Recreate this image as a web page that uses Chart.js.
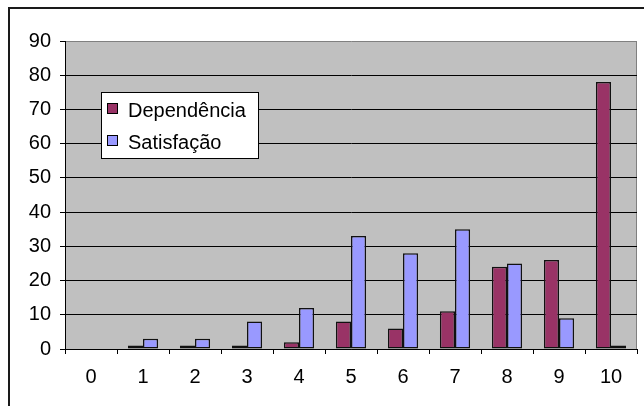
<!DOCTYPE html>
<html>
<head>
<meta charset="utf-8">
<script src="https://cdn.jsdelivr.net/npm/chart.js@4"></script>
<style>
  html, body { margin: 0; padding: 0; background: #fff; }
  #wrap { width: 644px; height: 406px; position: relative; }
</style>
</head>
<body>
<div id="wrap"><canvas id="c" width="644" height="406"></canvas></div>
<script>
const categories = ['0','1','2','3','4','5','6','7','8','9','10'];
const dependencia = [0, 1, 1, 1, 2, 8, 6, 11, 24, 26, 78];
const satisfacao = [0, 3, 3, 8, 12, 33, 28, 35, 25, 9, 1];
const seriesNames = ['Dependência', 'Satisfação'];
const yTicks = [0, 10, 20, 30, 40, 50, 60, 70, 80, 90];

const FONT = "'Liberation Sans', Arial, sans-serif";

const decor = {
  id: 'decor',
  beforeDraw(chart) {
    const ctx = chart.ctx, a = chart.chartArea;
    ctx.save();
    ctx.fillStyle = '#fff';
    ctx.fillRect(0, 0, chart.width, chart.height);
    ctx.strokeStyle = '#1a1a1a';
    ctx.lineWidth = 2;
    ctx.strokeRect(9, 8, 800, 600);
    ctx.fillStyle = '#C0C0C0';
    ctx.fillRect(a.left, a.top, a.right - a.left, a.bottom - a.top);
    ctx.strokeStyle = '#808080';
    ctx.lineWidth = 1;
    ctx.beginPath();
    ctx.moveTo(a.right - 0.5, a.top);
    ctx.lineTo(a.right - 0.5, a.bottom);
    ctx.stroke();
    ctx.restore();
  },
  afterDraw(chart) {
    const ctx = chart.ctx;
    const ds = chart.data.datasets;
    ctx.save();
    const bx = 101.5, by = 92.5, bw = 157, bh = 66;
    ctx.fillStyle = '#fff';
    ctx.fillRect(bx, by, bw, bh);
    ctx.strokeStyle = '#000';
    ctx.lineWidth = 1;
    ctx.strokeRect(bx, by, bw, bh);
    ctx.font = '20px ' + FONT;
    ctx.textBaseline = 'alphabetic';
    ctx.textAlign = 'left';
    const rows = [117, 149];
    ds.forEach((d, i) => {
      const base = rows[i];
      ctx.fillStyle = d.backgroundColor;
      ctx.fillRect(107.5, base - 13.5, 10, 10);
      ctx.strokeStyle = '#000';
      ctx.strokeRect(107.5, base - 13.5, 10, 10);
      ctx.fillStyle = '#000';
      ctx.fillText(d.label, 128, base);
    });
    ctx.restore();
  }
};

new Chart(document.getElementById('c'), {
  type: 'bar',
  data: {
    labels: categories,
    datasets: [
      { label: seriesNames[0], data: dependencia, backgroundColor: '#993366', borderColor: '#111', borderWidth: 1.5, borderSkipped: false },
      { label: seriesNames[1], data: satisfacao, backgroundColor: '#9999FF', borderColor: '#111', borderWidth: 1.5, borderSkipped: false }
    ]
  },
  options: {
    responsive: false,
    animation: false,
    devicePixelRatio: 1,
    layout: { padding: { top: 41, right: 7, bottom: 0, left: 0 } },
    datasets: { bar: { barPercentage: 1.0, categoryPercentage: 0.58 } },
    plugins: {
      legend: { display: false },
      tooltip: { enabled: false },
      title: { display: false }
    },
    scales: {
      x: {
        offset: true,
        grid: { offset: true, drawOnChartArea: false, drawTicks: true, tickLength: 5, color: '#000', lineWidth: 1 },
        border: { display: true, color: '#000', width: 1 },
        ticks: { color: '#000', font: { family: FONT, size: 20 }, padding: 11, maxRotation: 0, autoSkip: false },
        afterFit(scale) { scale.height = 57; }
      },
      y: {
        min: 0,
        max: 90,
        afterBuildTicks(scale) { scale.ticks = yTicks.map(v => ({ value: v })); },
        grid: {
          color: (c) => (c.tick && c.tick.value === 90) ? '#808080' : '#000',
          tickColor: '#000',
          lineWidth: 1,
          tickLength: 5,
          drawTicks: true
        },
        border: { display: true, color: '#000', width: 1 },
        ticks: { color: '#000', font: { family: FONT, size: 20 }, padding: 9 },
        afterFit(scale) { scale.width = 65; }
      }
    }
  },
  plugins: [decor]
});
</script>
</body>
</html>
